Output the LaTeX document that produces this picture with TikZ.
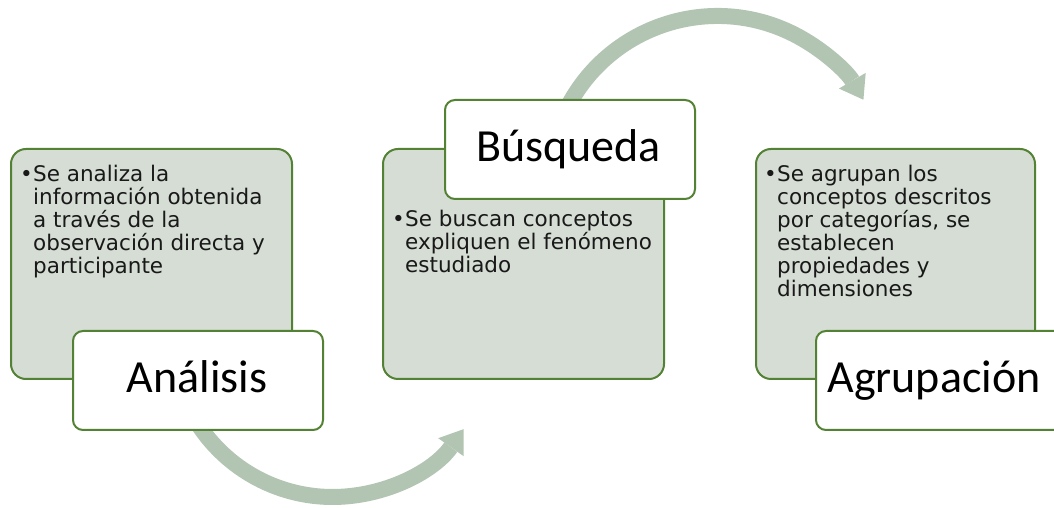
\documentclass[tikz,border=0pt]{standalone}
\usepackage{fontspec}
\setmainfont{DejaVu Sans}
\newfontfamily\titlefont{Carlito}
\usetikzlibrary{arrows.meta}
\definecolor{bordergreen}{RGB}{84,130,53}
\definecolor{boxfill}{RGB}{213,221,212}
\definecolor{arrowgreen}{RGB}{178,196,178}
\definecolor{bodytext}{RGB}{25,25,25}
\tikzset{
  gbox/.style={draw=bordergreen, fill=boxfill, line width=2pt, rounded corners=15pt, minimum width=281pt, minimum height=230pt, anchor=north west, inner sep=0pt},
  wbox/.style={draw=bordergreen, fill=white, line width=2pt, rounded corners=10pt, minimum width=250pt, minimum height=99pt, anchor=north west, inner sep=0pt},
  bodytxt/.style={anchor=base west, inner sep=0pt, text=bodytext, font=\fontsize{21.5}{23}\selectfont},
  titletxt/.style={anchor=base, inner sep=0pt, text=black, font=\titlefont\fontsize{46}{50}\selectfont},
  cyclearrow/.style={draw=arrowgreen, line width=16pt, -{Triangle[length=22pt,width=31pt,line width=0pt]}}
}
\newcommand{\bullist}[1]{\makebox[13pt][l]{•}\parbox[t]{250pt}{\raggedright #1}}
\begin{document}
\begin{tikzpicture}[x=1pt,y=1pt]
\useasboundingbox (0,0) rectangle (1054,508);
% arrows (behind boxes)
\coordinate (c1) at (332.5,171.6);
\coordinate (c2) at (717.5,323);
\draw[cyclearrow] (c1) ++(210:160.6) arc (210:324.7:160.6);
\draw[cyclearrow] (c2) ++(153:169) arc (153:30.3:169);
% box 1
\node[gbox] (g1) at (10,360) {};
\node[bodytxt] (t1) at (20,326) {\bullist{Se analiza la\\información obtenida\\a través de la\\observación directa y\\participante}};
\node[wbox] (w1) at (72,178) {};
\node[titletxt] (h1) at (197,115) {Análisis};
% box 2
\node[gbox] (g2) at (382,360) {};
\node[wbox] (w2) at (444,409) {};
\node[titletxt] (h2) at (568.5,346) {Búsqueda};
\node[bodytxt] (t2) at (392,281) {\bullist{Se buscan conceptos\\expliquen el fenómeno\\estudiado}};
% box 3
\node[gbox, minimum width=279pt] (g3) at (755,360) {};
\node[bodytxt] (t3) at (764,326) {\bullist{Se agrupan los\\conceptos descritos\\por categorías, se\\establecen\\propiedades y\\dimensiones}};
\node[wbox] (w3) at (815,178) {};
\node[titletxt] (h3) at (934,115) {Agrupación};
\end{tikzpicture}
\end{document}
